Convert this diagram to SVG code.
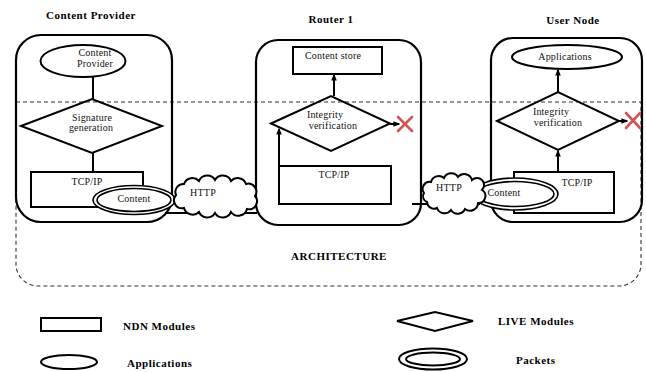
<svg xmlns="http://www.w3.org/2000/svg" width="646" height="372" viewBox="0 0 646 372">
<defs>
<marker id="ah" viewBox="0 0 10 10" refX="8" refY="5" markerWidth="7" markerHeight="7" markerUnits="userSpaceOnUse" orient="auto">
<path d="M0,1 L10,5 L0,9 Z" fill="#000"/>
</marker>
<style>
.box{fill:none;stroke:#000;stroke-width:2.2}
.sh{fill:none;stroke:#000;stroke-width:2}
.wf{fill:#fff;stroke:#000;stroke-width:2}
.pk{fill:#fff;stroke:#000;stroke-width:1.6}
.t{font-family:"Liberation Serif","Times New Roman",serif;font-size:10px;fill:#111;text-anchor:middle;letter-spacing:0.2px}
.b{font-family:"Liberation Serif","Times New Roman",serif;font-size:11px;font-weight:bold;fill:#000;letter-spacing:0.5px}
.bm{text-anchor:middle}
.dash{fill:none;stroke:#333;stroke-width:1.1;stroke-dasharray:4 3}
.ln{stroke:#000;stroke-width:2;fill:none}
.x{stroke:#d05555;stroke-width:2.6;stroke-linecap:round}
</style>
</defs>
<rect width="646" height="372" fill="#fff"/>

<g id="architecture">
<path class="dash" d="M16,102 H641 V264 A22,22 0 0 1 619,286 H38 A22,22 0 0 1 16,264 Z"/>
<text class="b bm" x="339" y="260">ARCHITECTURE</text>
</g>

<g id="content-provider">
<text class="b bm" x="91" y="19">Content Provider</text>
<rect class="box" x="16" y="35" width="156" height="187" rx="25"/>
<ellipse class="sh" cx="83" cy="61" rx="42.5" ry="16"/>
<text class="t" x="95" y="56">Content</text>
<text class="t" x="95" y="67">Provider</text>
<polygon class="sh" points="21,126 92,99 162,126 92,153"/>
<text class="t" x="92" y="121">Signature</text>
<text class="t" x="91" y="131">generation</text>
<rect class="sh" x="31" y="172" width="112" height="35"/>
<text class="t" x="87" y="185">TCP/IP</text>
</g>

<g id="router-1">
<text class="b bm" x="331" y="23">Router 1</text>
<rect class="box" x="256" y="40" width="165" height="185" rx="22"/>
<rect class="sh" x="293" y="47" width="89" height="27"/>
<text class="t" x="333" y="59">Content store</text>
<polygon class="sh" points="271,123.5 331,96 390,123.5 331,151"/>
<text class="t" x="325" y="118">Integrity</text>
<text class="t" x="333" y="128.5">verification</text>
<rect class="sh" x="279" y="166" width="112" height="38"/>
<text class="t" x="334" y="178">TCP/IP</text>
<line class="x" x1="398" y1="117" x2="412" y2="131"/>
<line class="x" x1="412" y1="117" x2="398" y2="131"/>
</g>

<g id="user-node">
<text class="b bm" x="573" y="24">User Node</text>
<rect class="box" x="491" y="38" width="151" height="184" rx="22"/>
<ellipse class="sh" cx="567" cy="57" rx="55" ry="12"/>
<text class="t" x="565" y="60">Applications</text>
<polygon class="sh" points="497,121 558,92 619,121 558,150"/>
<text class="t" x="551" y="115">Integrity</text>
<text class="t" x="558" y="125.5">verification</text>
<rect class="sh" x="514" y="172" width="100" height="41"/>
<text class="t" x="577" y="186">TCP/IP</text>
<line class="x" x1="626" y1="113" x2="640" y2="128"/>
<line class="x" x1="640" y1="113" x2="626" y2="128"/>
</g>

<g id="connectors">
<line class="ln" x1="93" y1="77" x2="93" y2="99"/>
<line class="ln" x1="93" y1="153" x2="93" y2="172"/>
<line class="ln" x1="334" y1="96" x2="334" y2="75" marker-end="url(#ah)"/>
<line class="ln" x1="279" y1="166" x2="279" y2="129" marker-end="url(#ah)"/>
<line class="ln" x1="390" y1="124" x2="399" y2="124" marker-end="url(#ah)"/>
<line class="ln" x1="558" y1="92" x2="558" y2="70" marker-end="url(#ah)"/>
<line class="ln" x1="558" y1="172" x2="558" y2="151" marker-end="url(#ah)"/>
<line class="ln" x1="619" y1="121" x2="627" y2="121" marker-end="url(#ah)"/>
<line class="ln" x1="165" y1="213" x2="257" y2="213"/>
<line class="ln" x1="412" y1="204" x2="480" y2="204"/>
</g>

<g id="packet-1">
<ellipse class="pk" cx="134" cy="200" rx="41" ry="14.5"/>
<ellipse class="pk" cx="134" cy="200" rx="37" ry="11.5"/>
<text class="t" x="134" y="202">Content</text>
</g>

<g id="http-1">
<path class="wf" d="M176,195 A8,8 0 0 1 184,184 A9,9 0 0 1 199,181 A9,9 0 0 1 215,180 A9,9 0 0 1 231,181 A9,9 0 0 1 246,184 A8,8 0 0 1 255,196 A8,8 0 0 1 247,209 A9,9 0 0 1 231,212 A9,9 0 0 1 215,213 A9,9 0 0 1 199,212 A9,9 0 0 1 184,208 A8,8 0 0 1 176,195 Z"/>
<text class="t" x="203" y="196">HTTP</text>
</g>

<g id="packet-2">
<ellipse class="pk" cx="515" cy="194" rx="43" ry="16"/>
<ellipse class="pk" cx="515" cy="194" rx="39" ry="12.5"/>
<text class="t" x="504" y="196">Content</text>
</g>

<g id="http-2">
<path class="wf" d="M424,193 A7,7 0 0 1 431,182 A8,8 0 0 1 444,178 A8,8 0 0 1 458,177 A8,8 0 0 1 472,180 A7,7 0 0 1 482,190 A7,7 0 0 1 478,203 A8,8 0 0 1 465,209 A8,8 0 0 1 451,210 A8,8 0 0 1 437,208 A7,7 0 0 1 427,202 A6,6 0 0 1 424,193 Z"/>
<text class="t" x="449" y="191">HTTP</text>
</g>

<g id="legend">
<rect class="sh" x="41" y="318" width="60" height="13"/>
<text class="b" x="123" y="330">NDN Modules</text>
<ellipse class="sh" cx="69" cy="362" rx="28" ry="7"/>
<text class="b" x="127" y="367">Applications</text>
<polygon class="sh" points="397,321 435,312 473,321 435,331"/>
<text class="b" x="498" y="325">LIVE Modules</text>
<ellipse class="sh" cx="433" cy="359" rx="34" ry="10.5"/>
<ellipse class="sh" cx="433" cy="359" rx="27" ry="6.5"/>
<text class="b" x="516" y="364">Packets</text>
</g>
</svg>
